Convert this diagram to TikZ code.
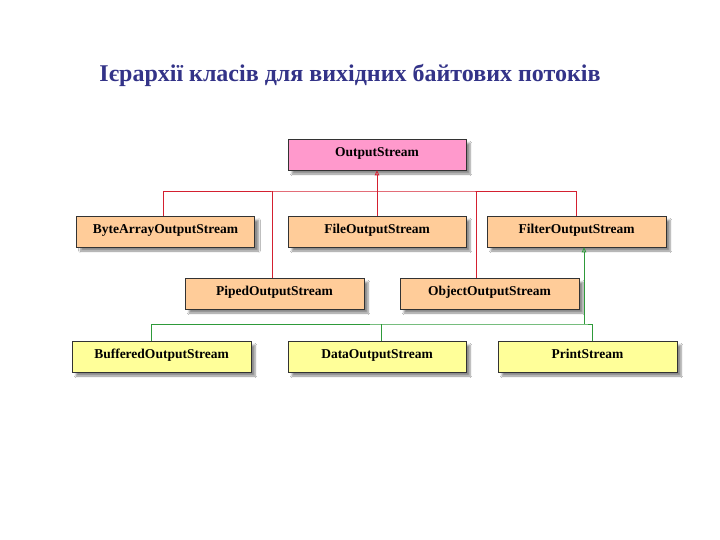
\documentclass[tikz,border=0pt]{standalone}
\usepackage{fontspec}
\setmainfont{Liberation Serif}
\usetikzlibrary{arrows.meta,shadows.blur}
\definecolor{titleblue}{HTML}{333388}
\definecolor{pinkfill}{HTML}{FF99CC}
\definecolor{peachfill}{HTML}{FFCC99}
\definecolor{yellowfill}{HTML}{FFFF99}
\definecolor{redline}{HTML}{D42030}
\definecolor{greenline}{HTML}{2E9A3A}
\begin{document}
\begin{tikzpicture}[x=1pt,y=-1pt,
  cls/.style={draw=black!80, line width=0.6pt, minimum width=178pt, minimum height=31pt,
    inner sep=0pt, text height=8pt, text depth=4pt, font=\bfseries\fontsize{13.5}{15}\selectfont,
    blur shadow={shadow xshift=4pt, shadow yshift=-4pt, shadow blur steps=6, shadow opacity=45}},
  rootcls/.style={cls, fill=pinkfill},
  midcls/.style={cls, fill=peachfill},
  leafcls/.style={cls, fill=yellowfill},
  redl/.style={draw=redline, line width=0.8pt},
  greenl/.style={draw=greenline, line width=0.8pt},
  tip/.style={-{Triangle[open, length=5pt, width=4.5pt]}}]
\useasboundingbox (0,0) rectangle (720,540);
\fill[white] (0,0) rectangle (720,540);
\node[font=\bfseries\fontsize{24}{28}\selectfont, text=titleblue] (title) at (350,75) {Ієрархії класів для вихідних байтових потоків};
\node[rootcls] (os) at (377,154.5) {OutputStream};
\node[midcls] (ba) at (165.5,231.5) {ByteArrayOutputStream};
\node[midcls] (fo) at (377,231.5) {FileOutputStream};
\node[midcls, minimum width=179pt] (fi) at (576.5,231.5) {FilterOutputStream};
\node[midcls, minimum width=179pt] (pi) at (274.5,293.5) {PipedOutputStream};
\node[midcls, minimum width=179pt] (ob) at (489.5,293.5) {ObjectOutputStream};
\node[leafcls, minimum width=179pt] (bu) at (161.5,356.5) {BufferedOutputStream};
\node[leafcls] (da) at (377,356.5) {DataOutputStream};
\node[leafcls, minimum width=179pt] (pr) at (587.5,356.5) {PrintStream};
% red hierarchy
\coordinate (rb) at (377,191);
\draw[redl] ([xshift=-2.5pt]ba.north) |- (rb) -| (fi.north);
\draw[redl] (fo.north) -- (rb);
\draw[redl] ([xshift=-2.5pt]pi.north) -- ([xshift=-2.5pt]pi.north |- rb);
\draw[redl] ([xshift=-13.5pt]ob.north) -- ([xshift=-13.5pt]ob.north |- rb);
\draw[redl, tip] (rb) -- (os.south);
% green hierarchy
\coordinate (gb) at (584,324);
\draw[greenl] ([xshift=-10pt]bu.north) |- (gb) -| ([xshift=4.5pt]pr.north);
\draw[greenl] ([xshift=4pt]da.north) -- ([xshift=4pt]da.north |- gb);
\draw[greenl, tip] (gb) -- ([xshift=7.5pt]fi.south);
\end{tikzpicture}
\end{document}
